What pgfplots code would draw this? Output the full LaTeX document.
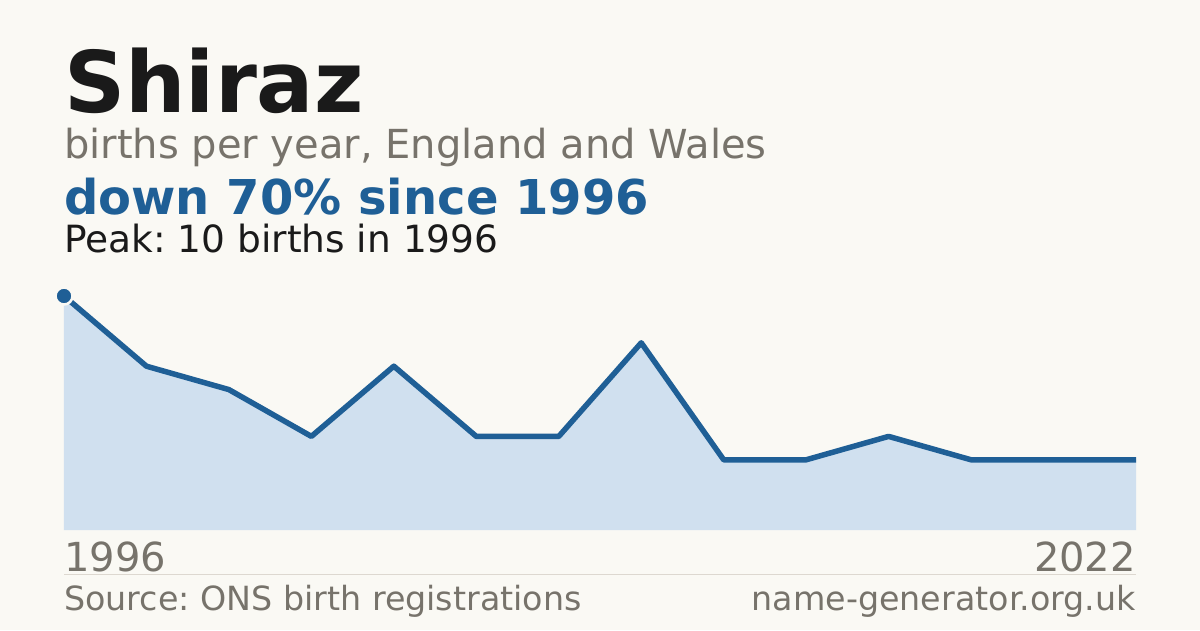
\documentclass[border=0pt]{standalone}
\usepackage{pgfplots}
\pgfplotsset{compat=1.18}
\usepackage{fontspec}
\setmainfont{DejaVu Sans}
\frenchspacing
\definecolor{bg}{HTML}{FAF9F4}
\definecolor{ink}{HTML}{1A1A1A}
\definecolor{muted}{HTML}{77736B}
\definecolor{accent}{HTML}{1F5F96}
\definecolor{areafill}{HTML}{D0E0EF}
\definecolor{rule}{HTML}{DDD8D0}
\newcommand{\fs}[1]{\fontsize{#1}{#1}\selectfont}
\begin{document}
\begin{tikzpicture}
\fill[bg] (0pt,0pt) rectangle (1200pt,630pt);
% headings (y measured from the bottom: 630 - pixel row)
\node[anchor=base west,inner sep=0,text=ink] at (64pt,517pt) {\fs{85}\bfseries Shiraz};
\node[anchor=base west,inner sep=0,text=muted] at (64pt,471pt) {\fs{40}births per year, England and Wales};
\node[anchor=base west,inner sep=0,text=accent] at (64pt,415pt) {\fs{48}\bfseries down 70\% since 1996};
\node[anchor=base west,inner sep=0,text=ink] at (64pt,377pt) {\fs{37.5}Peak: 10 births in 1996};
\begin{axis}[
    at={(64pt,100pt)}, anchor=south west,
    scale only axis, width=1072pt, height=234pt,
    xmin=0, xmax=13, ymin=0, ymax=10,
    hide axis, clip=false
]
\addplot[fill=areafill, draw=none] coordinates {
    (0,10) (1,7) (2,6) (3,4) (4,7) (5,4) (6,4) (7,8) (8,3) (9,3) (10,4) (11,3) (12,3) (13,3)
} \closedcycle;
\addplot[accent, line width=5.5pt, line join=round] coordinates {
    (0,10) (1,7) (2,6) (3,4) (4,7) (5,4) (6,4) (7,8) (8,3) (9,3) (10,4) (11,3) (12,3) (13,3)
};
\addplot[only marks, mark=*, mark size=8.5pt, mark options={fill=accent, draw=bg, line width=2.5pt}] coordinates {(0,10)};
\end{axis}
\node[anchor=base west,inner sep=0,text=muted] at (64pt,59pt) {\fs{40}1996};
\node[anchor=base east,inner sep=0,text=muted] at (1136pt,59pt) {\fs{40}2022};
\draw[rule, line width=1pt] (64pt,55.5pt) -- (1136pt,55.5pt);
\node[anchor=base west,inner sep=0,text=muted] at (64pt,20pt) {\fs{33.3}Source: ONS birth registrations};
\node[anchor=base east,inner sep=0,text=muted] at (1136pt,20pt) {\fs{33.3}name-generator.org.uk};
\end{tikzpicture}
\end{document}
